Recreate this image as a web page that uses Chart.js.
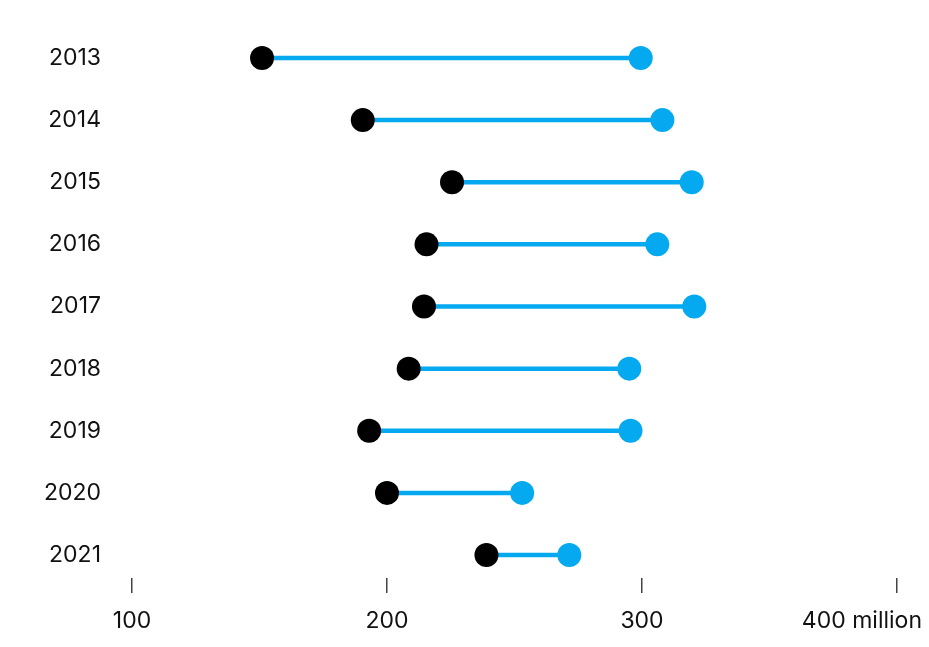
<!DOCTYPE html>
<html>
<head>
<meta charset="utf-8">
<script src="https://cdn.jsdelivr.net/npm/chart.js@4"></script>
<style>
  html, body { margin: 0; padding: 0; background: #fff; }
  #wrap { width: 929px; height: 647px; }
</style>
</head>
<body>
<div id="wrap"><canvas id="chart" width="929" height="647"></canvas></div>
<script>
// Data
var years = ['2013', '2014', '2015', '2016', '2017', '2018', '2019', '2020', '2021'];
var lowValues = [151, 190.5, 225.5, 215.5, 214.5, 208.5, 193, 200, 239];
var highValues = [299.5, 308, 319.5, 306, 320.5, 295, 295.5, 253, 271.5];
var xTicks = [100, 200, 300, 400];
var xTickLabels = ['100', '200', '300', '400 million'];

var blue = '#05a9f0';
var fontFamily = "Inter, 'Liberation Sans', Arial, sans-serif";

// one line per year between the two dots
var datasets = years.map(function (y, i) {
    return {
        showLine: true,
        data: [{ x: lowValues[i], y: i }, { x: highValues[i], y: i }],
        borderColor: blue,
        borderWidth: 4.5,
        pointRadius: 0,
        pointHoverRadius: 0,
        order: 3
    };
});

datasets.push({
    data: lowValues.map(function (v, i) { return { x: v, y: i }; }),
    backgroundColor: '#000000',
    borderWidth: 0,
    pointRadius: 12,
    pointHoverRadius: 12,
    order: 1
});

datasets.push({
    data: highValues.map(function (v, i) { return { x: v, y: i }; }),
    backgroundColor: blue,
    borderWidth: 0,
    pointRadius: 12,
    pointHoverRadius: 12,
    order: 2
});

// x axis labels, last one kept inside the canvas
var xLabelsPlugin = {
    id: 'xLabels',
    afterDraw: function (chart) {
        var ctx = chart.ctx;
        var scale = chart.scales.x;
        ctx.save();
        ctx.font = "23px " + fontFamily;
        ctx.fillStyle = '#111111';
        ctx.textBaseline = 'middle';
        xTicks.forEach(function (v, i) {
            var px = scale.getPixelForValue(v);
            var text = xTickLabels[i];
            var w = ctx.measureText(text).width;
            var right = Math.min(px + w / 2, chart.width - 7);
            ctx.textAlign = 'right';
            ctx.fillText(text, right, scale.top + 43);
        });
        ctx.restore();
    }
};

var chart = new Chart(document.getElementById('chart'), {
    type: 'scatter',
    data: { datasets: datasets },
    options: {
        responsive: false,
        animation: false,
        layout: { padding: { top: 35, right: 32, bottom: 54, left: 0 } },
        plugins: {
            legend: { display: false },
            tooltip: { enabled: false }
        },
        scales: {
            x: {
                type: 'linear',
                min: 100,
                max: 400,
                afterBuildTicks: function (scale) {
                    scale.ticks = xTicks.map(function (v) { return { value: v }; });
                },
                afterFit: function (scale) {
                    scale.height = 15;
                    scale.paddingLeft = 0;
                    scale.paddingRight = 0;
                },
                border: { display: false },
                grid: {
                    drawOnChartArea: false,
                    drawTicks: true,
                    tickLength: 15,
                    tickColor: '#444444',
                    lineWidth: 1.5
                },
                ticks: { display: false }
            },
            y: {
                type: 'linear',
                reverse: true,
                min: -0.37,
                max: 8.37,
                afterBuildTicks: function (scale) {
                    scale.ticks = years.map(function (y, i) { return { value: i }; });
                },
                afterFit: function (scale) {
                    scale.width = 132;
                    scale.paddingTop = 0;
                    scale.paddingBottom = 0;
                },
                border: { display: false },
                grid: { display: false, drawTicks: false },
                ticks: {
                    padding: 31,
                    color: '#111111',
                    font: { family: fontFamily, size: 23 },
                    callback: function (value) { return years[value]; }
                }
            }
        }
    },
    plugins: [xLabelsPlugin]
});
</script>
</body>
</html>
